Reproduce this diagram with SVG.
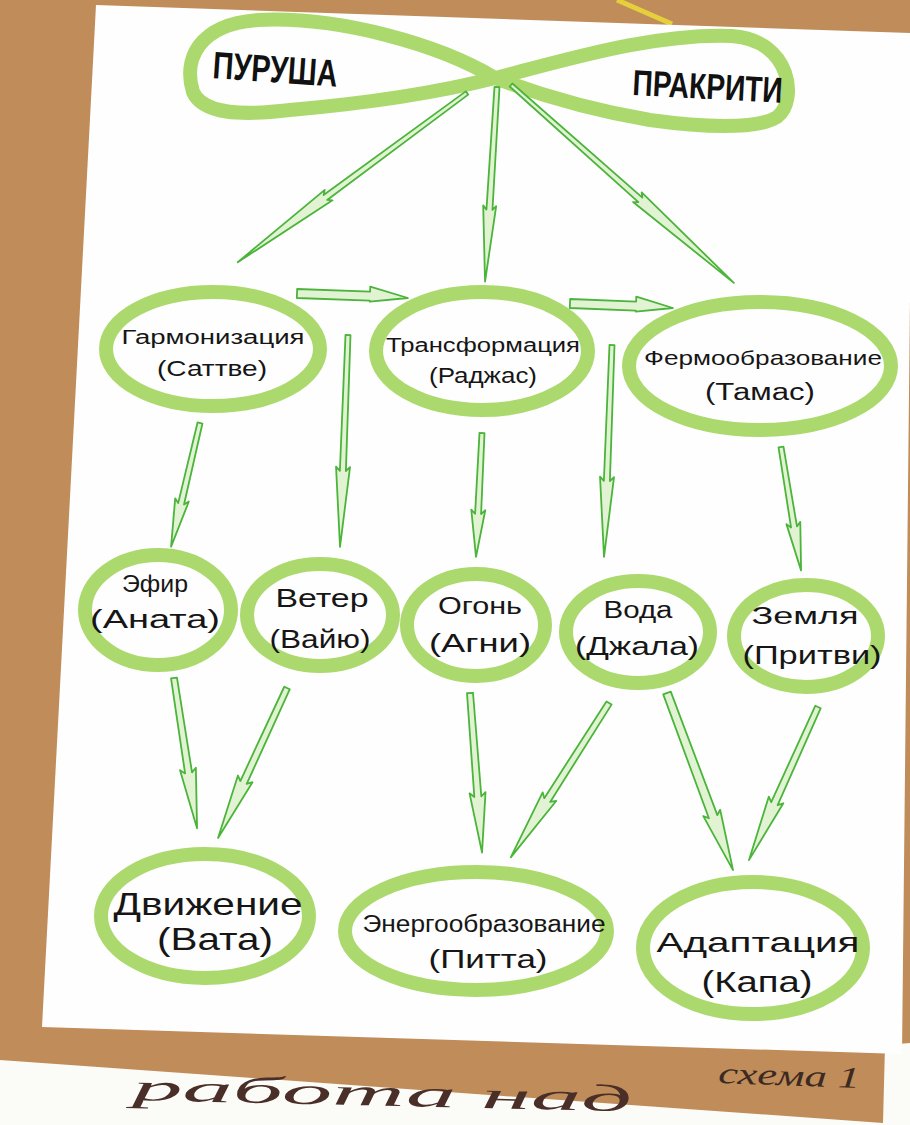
<svg xmlns="http://www.w3.org/2000/svg" width="910" height="1125" viewBox="0 0 910 1125">
<style>
.ring{fill:none;stroke:#acd96d;stroke-width:14}
.lbl{font-family:"Liberation Sans","DejaVu Sans",sans-serif;fill:#161616;text-anchor:middle}
.big{font-family:"Liberation Sans","DejaVu Sans",sans-serif;font-weight:bold;fill:#111}
.arr{fill:#e2f3d4;stroke:#4bb43a;stroke-width:1.8;stroke-linejoin:round}
.hand{font-family:"Liberation Serif","DejaVu Serif",serif;font-style:italic}
</style>
<rect x="0" y="0" width="910" height="1125" fill="#fbfbf8"/>
<path d="M0,0 H910 V1043 L885,1045 L883,1123 L0,1060 Z" fill="#c08c5a"/>
<path d="M617,0 L672,24" stroke="#e6cf3c" stroke-width="5" fill="none"/>
<path d="M96,5 L910,33 L910,300 L902,1054 L42,1027 Z" fill="#fefefe"/>

<g id="top">
<path class="ring" stroke-width="15" d="M495,78 C440,45 340,16 258,20 C198,24 183,60 193,92 C203,114 240,116 290,110 C370,103 440,92 495,78 C560,62 650,33 732,36 C792,40 798,102 777,117 C757,130 700,127 650,120 C590,110 540,95 495,78 Z"/>
<text class="big" x="212" y="78" font-size="38" textLength="125" lengthAdjust="spacingAndGlyphs" transform="rotate(4 212 78)">ПУРУША</text>
<text class="big" x="632" y="95" font-size="36" textLength="150" lengthAdjust="spacingAndGlyphs" transform="rotate(3 632 95)">ПРАКРИТИ</text>
</g>

<g id="sattva">
<ellipse class="ring" cx="213" cy="349" rx="107" ry="57"/>
<text class="lbl" x="213" y="344" font-size="20" textLength="183" lengthAdjust="spacingAndGlyphs">Гармонизация</text>
<text class="lbl" x="212" y="376" font-size="22" textLength="110" lengthAdjust="spacingAndGlyphs">(Саттве)</text>
</g>
<g id="rajas">
<ellipse class="ring" cx="482" cy="351" rx="106" ry="59"/>
<text class="lbl" x="483" y="352" font-size="20" textLength="194" lengthAdjust="spacingAndGlyphs">Трансформация</text>
<text class="lbl" x="483" y="383" font-size="22" textLength="108" lengthAdjust="spacingAndGlyphs">(Раджас)</text>
</g>
<g id="tamas">
<ellipse class="ring" cx="760" cy="366" rx="131" ry="64"/>
<text class="lbl" x="763" y="365" font-size="21" textLength="238" lengthAdjust="spacingAndGlyphs">Фермообразование</text>
<text class="lbl" x="760" y="400" font-size="23" textLength="110" lengthAdjust="spacingAndGlyphs">(Тамас)</text>
</g>

<g id="efir">
<ellipse class="ring" cx="158" cy="610" rx="73" ry="55"/>
<text class="lbl" x="155" y="592" font-size="23" textLength="66" lengthAdjust="spacingAndGlyphs">Эфир</text>
<text class="lbl" x="155" y="628" font-size="25" textLength="130" lengthAdjust="spacingAndGlyphs">(Аната)</text>
</g>
<g id="veter">
<ellipse class="ring" cx="320" cy="615" rx="73" ry="51"/>
<text class="lbl" x="322" y="607" font-size="25" textLength="93" lengthAdjust="spacingAndGlyphs">Ветер</text>
<text class="lbl" x="320" y="648" font-size="26" textLength="101" lengthAdjust="spacingAndGlyphs">(Вайю)</text>
</g>
<g id="ogon">
<ellipse class="ring" cx="476" cy="625" rx="69" ry="51"/>
<text class="lbl" x="480" y="614" font-size="23" textLength="84" lengthAdjust="spacingAndGlyphs">Огонь</text>
<text class="lbl" x="480" y="652" font-size="25" textLength="102" lengthAdjust="spacingAndGlyphs">(Агни)</text>
</g>
<g id="voda">
<ellipse class="ring" cx="638" cy="632" rx="72" ry="51"/>
<text class="lbl" x="638" y="618" font-size="23" textLength="69" lengthAdjust="spacingAndGlyphs">Вода</text>
<text class="lbl" x="637" y="655" font-size="25" textLength="124" lengthAdjust="spacingAndGlyphs">(Джала)</text>
</g>
<g id="zemlya">
<ellipse class="ring" cx="806" cy="636" rx="72" ry="51"/>
<text class="lbl" x="805" y="624" font-size="23" textLength="107" lengthAdjust="spacingAndGlyphs">Земля</text>
<text class="lbl" x="812" y="664" font-size="25" textLength="139" lengthAdjust="spacingAndGlyphs">(Притви)</text>
</g>

<g id="vata">
<ellipse class="ring" cx="205" cy="916" rx="104" ry="62" stroke-width="16"/>
<text class="lbl" x="208" y="915" font-size="32" textLength="189" lengthAdjust="spacingAndGlyphs">Движение</text>
<text class="lbl" x="215" y="950" font-size="32" textLength="116" lengthAdjust="spacingAndGlyphs">(Вата)</text>
</g>
<g id="pitta">
<ellipse class="ring" cx="476" cy="931" rx="131" ry="59" stroke-width="16"/>
<text class="lbl" x="484" y="932" font-size="23" textLength="243" lengthAdjust="spacingAndGlyphs">Энергообразование</text>
<text class="lbl" x="488" y="968" font-size="25" textLength="119" lengthAdjust="spacingAndGlyphs">(Питта)</text>
</g>
<g id="kapha">
<ellipse class="ring" cx="753" cy="948" rx="110" ry="66" stroke-width="16"/>
<text class="lbl" x="758" y="952" font-size="28" textLength="203" lengthAdjust="spacingAndGlyphs">Адаптация</text>
<text class="lbl" x="757" y="992" font-size="30" textLength="111" lengthAdjust="spacingAndGlyphs">(Капа)</text>
</g>

<g id="connectors">
<path class="arr" transform="translate(467,93) rotate(143.57)" d="M0,-2 L176,-3 L172,-6.5 L285,0 L172,6.5 L176,3 L0,2Z"/>
<path class="arr" transform="translate(497,87) rotate(93.52)" d="M0,-2.5 L123,-3 L119,-6.5 L195,0 L119,6.5 L123,3 L0,2.5Z"/>
<path class="arr" transform="translate(511,85) rotate(41.6)" d="M0,-2 L173,-3 L169,-6.5 L298,0 L169,6.5 L173,3 L0,2Z"/>
<path class="arr" transform="translate(297,293) rotate(2.06)" d="M0,-4 L73,-4 L73,-9 L111,1 L73,6 L73,5 L0,5Z"/>
<path class="arr" transform="translate(570,303) rotate(2.22)" d="M0,-4 L66,-4 L66,-9 L103,1 L66,6 L66,5 L0,5Z"/>
<path class="arr" transform="translate(200,423) rotate(103.16)" d="M0,-2.5 L83,-3 L79,-7 L127,0 L79,7 L83,3 L0,2.5Z"/>
<path class="arr" transform="translate(348,335) rotate(92.16)" d="M0,-2.5 L136,-3 L132,-7 L212,0 L132,7 L136,3 L0,2.5Z"/>
<path class="arr" transform="translate(482,433) rotate(92.77)" d="M0,-2.5 L81,-3 L77,-7 L124,0 L77,7 L81,3 L0,2.5Z"/>
<path class="arr" transform="translate(612,345) rotate(92.16)" d="M0,-2.5 L136,-3 L132,-7 L212,0 L132,7 L136,3 L0,2.5Z"/>
<path class="arr" transform="translate(781,447) rotate(80.76)" d="M0,-2.5 L81,-3 L77,-7 L125,0 L77,7 L81,3 L0,2.5Z"/>
<path class="arr" transform="translate(174,678) rotate(81.28)" d="M0,-3 L96,-3.5 L92,-8 L152,0 L92,8 L96,3.5 L0,3Z"/>
<path class="arr" transform="translate(287,688) rotate(114.7)" d="M0,-3 L104,-3.5 L100,-8 L165,0 L100,8 L104,3.5 L0,3Z"/>
<path class="arr" transform="translate(470,693) rotate(85.68)" d="M0,-3 L104,-3.5 L100,-8 L160,0 L100,8 L104,3.5 L0,3Z"/>
<path class="arr" transform="translate(609,703) rotate(122.47)" d="M0,-3 L115,-3.5 L111,-8 L183,0 L111,8 L115,3.5 L0,3Z"/>
<path class="arr" transform="translate(667,693) rotate(69.55)" d="M0,-4 L132,-4.5 L128,-9 L189,0 L128,9 L132,4.5 L0,4Z"/>
<path class="arr" transform="translate(818,707) rotate(114.27)" d="M0,-3 L106,-3.5 L102,-8 L168,0 L102,8 L106,3.5 L0,3Z"/>
</g>

<text class="hand" x="718" y="1083" font-size="30" fill="#3b2a22" textLength="142" lengthAdjust="spacingAndGlyphs" transform="rotate(2 718 1083)">схема 1</text>
<text class="hand" x="132" y="1100" font-size="38" fill="#4a2e28" textLength="500" lengthAdjust="spacingAndGlyphs" transform="rotate(1.3 132 1100)">работа над</text>
</svg>
